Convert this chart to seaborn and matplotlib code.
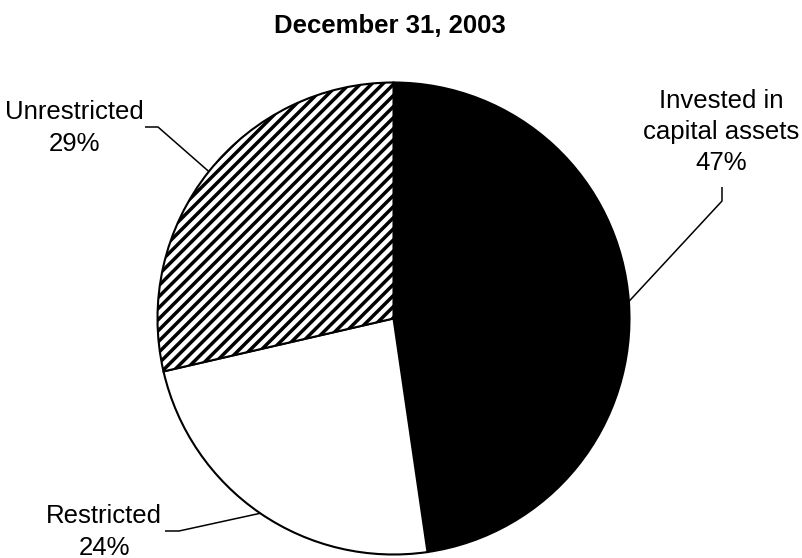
import numpy as np
import matplotlib
matplotlib.use("Agg")
import matplotlib.pyplot as plt
import seaborn as sns

# values
categories = ["Invested in\ncapital assets", "Restricted", "Unrestricted"]
shares = [47.7, 23.7, 28.6]
pct_labels = ["47%", "24%", "29%"]
title = "December 31, 2003"

sns.set_theme(style="white")
plt.rcParams["font.family"] = ["Liberation Sans", "DejaVu Sans"]
plt.rcParams["hatch.linewidth"] = 2.5

W, H = 802, 558
fig = plt.figure(figsize=(W / 100, H / 100), dpi=100)
ax = fig.add_axes([0, 0, 1, 1])

# pie drawn in pixel-like data coordinates (y measured from bottom)
cx, cy, r = 393.5, H - 318.5, 236
wedges, _ = ax.pie(
    shares,
    colors=["black", "white", "white"],
    startangle=90,
    counterclock=False,
    center=(cx, cy),
    radius=r,
    wedgeprops=dict(edgecolor="black", linewidth=1.5),
)
wedges[2].set_hatch("///")
ax.set_xlim(0, W)
ax.set_ylim(0, H)
ax.set_aspect("equal")
ax.axis("off")

# leader elbows / ends and label centres, in pixels from the top-left
elbows = [(722, 201), (179, 531), (158, 127)]
ends = [(722, 187), (165, 531), (145, 127)]
label_pos = [(721, 132), (104, 532), (74, 128)]

for w, cat, pct, elb, end, pos in zip(wedges, categories, pct_labels, elbows, ends, label_pos):
    ang = np.deg2rad((w.theta1 + w.theta2) / 2)
    ex, ey = cx + r * np.cos(ang), cy + r * np.sin(ang)
    ax.plot([ex, elb[0], end[0]], [ey, H - elb[1], H - end[1]],
            color="black", lw=1.1, solid_capstyle="butt")
    ax.text(pos[0], H - pos[1], f"{cat}\n{pct}", ha="center", va="center",
            fontsize=18.5, linespacing=1.38, color="black")

ax.text(390, H - 26, title, ha="center", va="center",
        fontsize=18.5, fontweight="bold", color="black")

fig.savefig("out.png", dpi=100)
